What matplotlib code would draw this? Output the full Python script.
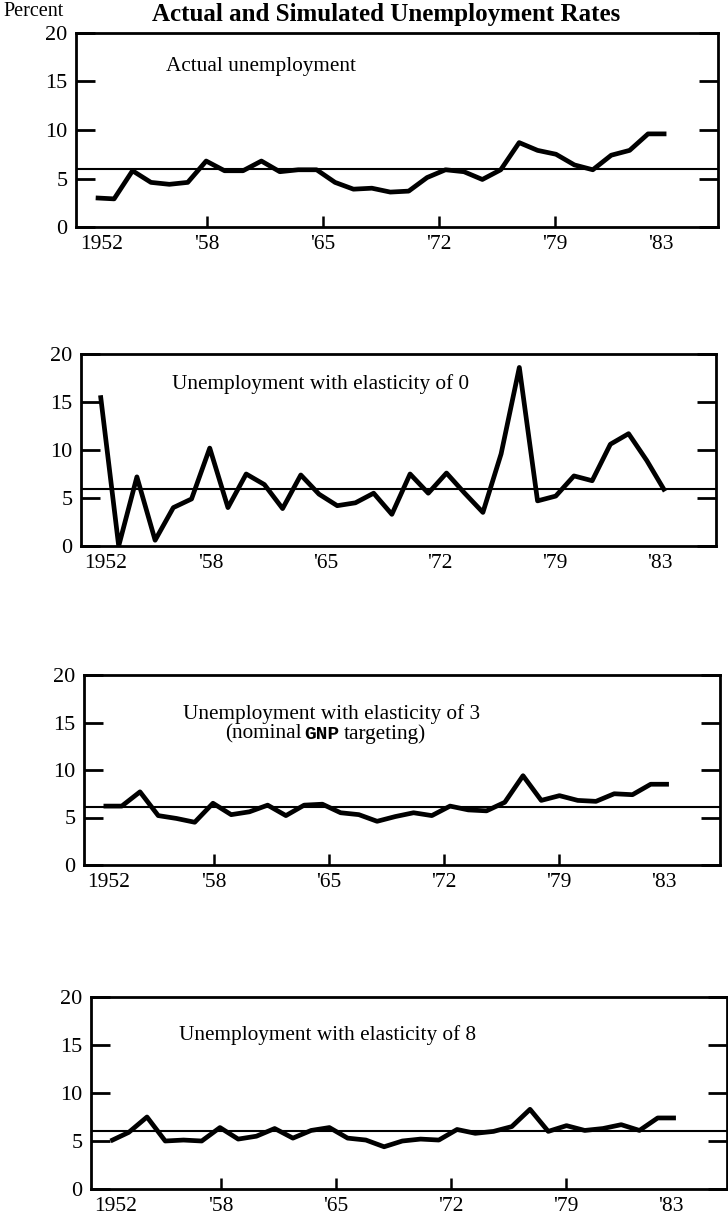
import matplotlib
matplotlib.use("Agg")
import matplotlib.pyplot as plt

# ---------------- data ----------------
years = list(range(1952, 1984))

actual = [3.0, 2.9, 5.8, 4.6, 4.4, 4.6, 6.8, 5.8, 5.8, 6.8, 5.7, 5.9, 5.9, 4.6,
          3.9, 4.0, 3.6, 3.7, 5.1, 5.9, 5.7, 4.9, 5.9, 8.7, 7.9, 7.5, 6.4, 5.9,
          7.4, 7.9, 9.6, 9.6]

elasticity_0 = [15.7, 0.0, 7.2, 0.6, 4.0, 4.9, 10.2, 4.0, 7.5, 6.4, 3.9, 7.4,
                5.4, 4.2, 4.5, 5.5, 3.3, 7.5, 5.5, 7.6, 5.5, 3.5, 9.6, 18.6,
                4.7, 5.2, 7.3, 6.8, 10.6, 11.7, 8.9, 5.7]

elasticity_3 = [6.2, 6.2, 7.7, 5.2, 4.9, 4.5, 6.5, 5.3, 5.6, 6.3, 5.2, 6.3,
                6.4, 5.5, 5.3, 4.6, 5.1, 5.5, 5.2, 6.2, 5.8, 5.7, 6.6, 9.4,
                6.8, 7.3, 6.8, 6.7, 7.5, 7.4, 8.5, 8.5]

elasticity_8 = [5.0, 5.9, 7.5, 5.0, 5.1, 5.0, 6.4, 5.2, 5.5, 6.3, 5.3, 6.1,
                6.4, 5.3, 5.1, 4.4, 5.0, 5.2, 5.1, 6.2, 5.8, 6.0, 6.5, 8.3,
                6.0, 6.6, 6.1, 6.3, 6.7, 6.1, 7.4, 7.4]

reference_rate = [6.0, 5.9, 6.1, 6.0]

series = [actual, elasticity_0, elasticity_3, elasticity_8]

y_ticks = [0, 5, 10, 15, 20]
y_labels = ["0", "5", "10", "15", "20"]
x_labels = ["1952", "'58", "'65", "'72", "'79", "'83"]

title = "Actual and Simulated Unemployment Rates"
panel_titles = ["Actual unemployment",
                "Unemployment with elasticity of 0",
                "Unemployment with elasticity of 3",
                "Unemployment with elasticity of 8"]

# ---------------- layout ----------------
W, H = 728, 1217
DPI = 100
SERIF = ["Liberation Serif", "DejaVu Serif"]
plt.rcParams["font.family"] = SERIF

fig = plt.figure(figsize=(W / DPI, H / DPI), dpi=DPI)

# axes rectangles in pixels: left, top, width, height
rects = [(76, 33, 642, 194),
         (81, 354, 635, 192),
         (84, 675, 636, 190),
         (91, 997, 636, 192)]

# where the year labels sit on the printed axis (in year units)
tick_pos = [1952.3, 1958.05, 1964.35, 1970.65, 1976.95, 1982.7]
xlim = (1950.93, 1985.8)

text_pos = [(0.140, 0.825), (0.143, 0.844), (0.156, 0.795), (0.138, 0.802)]

for i, (l, t, w, h) in enumerate(rects):
    ax = fig.add_axes([l / W, 1 - (t + h) / H, w / W, h / H])
    ax.plot(years, series[i], color="black", lw=3.4, solid_joinstyle="round",
            solid_capstyle="butt", zorder=3)
    ax.axhline(reference_rate[i], color="black", lw=1.5, zorder=2)
    ax.set_xlim(*xlim)
    ax.set_ylim(0, 20)
    for sp in ax.spines.values():
        sp.set_linewidth(2.0)
    ax.set_yticks(y_ticks, y_labels)
    ax.tick_params(axis="y", direction="in", length=14, width=2.0,
                   left=True, right=True, labelleft=True, labelright=False,
                   pad=6, labelsize=16)
    ax.set_xticks(tick_pos, x_labels)
    ax.tick_params(axis="x", direction="in", length=8, width=1.8,
                   bottom=True, top=False, pad=6, labelsize=15.5)
    ticks = ax.xaxis.get_major_ticks()
    ticks[0].tick1line.set_visible(False)
    ticks[-1].tick1line.set_visible(False)
    if i == 1:
        for tk in ticks:
            tk.tick1line.set_visible(False)

    tx, ty = text_pos[i]
    ax.text(tx, ty, panel_titles[i], transform=ax.transAxes, fontsize=15.3,
            ha="left", va="center")
    if i == 2:
        y2 = 0.665
        t1 = ax.text(0.222, y2, "(nominal", transform=ax.transAxes,
                     fontsize=15.3, ha="left", va="baseline")
        t2 = ax.annotate("GNP", xy=(1, y2), xycoords=(t1, "axes fraction"),
                         xytext=(2, 0), textcoords="offset points",
                         fontsize=14, fontweight="bold",
                         family=["Liberation Mono", "DejaVu Sans Mono"],
                         ha="left", va="baseline")
        ax.annotate("targeting)", xy=(1, y2), xycoords=(t2, "axes fraction"),
                    xytext=(3, 0), textcoords="offset points",
                    fontsize=15.3, ha="left", va="baseline")

fig.text(386 / W, 1 - 15 / H, title, ha="center", va="center",
         fontsize=18, fontweight="bold")
fig.text(3 / W, 1 - 12 / H, "Percent", ha="left", va="center", fontsize=14.5)

fig.savefig("out.png", dpi=DPI)
